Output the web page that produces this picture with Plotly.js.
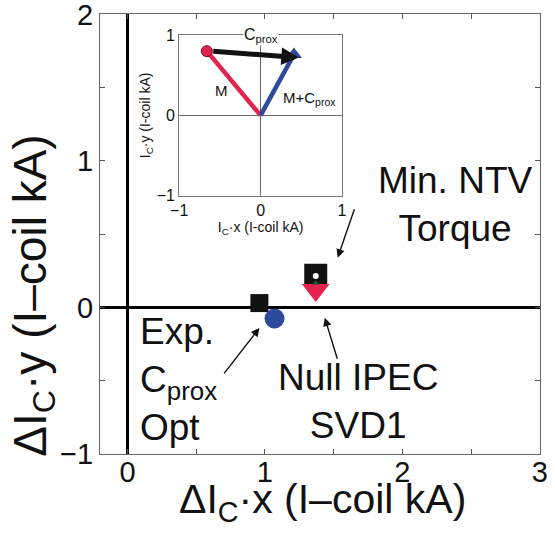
<!DOCTYPE html>
<html>
<head>
<meta charset="utf-8">
<script src="https://cdn.plot.ly/plotly-3.0.1.min.js"></script>
<style>
  html, body { margin: 0; padding: 0; background: #fff; }
  #chart { width: 555px; height: 542px; }
</style>
</head>
<body>
<div id="chart"></div>
<script>
// Coil-current phasor components (I-coil kA) for the optimised configurations
const expCproxOpt = { x: [0.96], y: [0.03] };
const cproxOptB   = { x: [1.07], y: [-0.075] };
const minNtvTorque = { x: [1.37], y: [0.22] };
const nullIpecSvd1 = { x: [1.37], y: [0.12] };
const innerMarkW  = { x: [1.37], y: [0.215] };
const innerMarkG  = { x: [1.37], y: [0.165] };

// Inset vectors: M, C_prox and their sum M+C_prox
const vecM    = { x: [0, -0.66], y: [0, 0.80] };
const vecSum  = { x: [0, 0.41], y: [0, 0.76] };
const cproxTail = [-0.60, 0.80];
const cproxHead = [0.47, 0.72];

const mainYTicks = [-1, -0.5, 0, 0.5, 1, 1.5, 2];
const mainYLabels = ['\u22121', '', '0', '', '1', '', '2'];
const mainXTicks = [0, 0.5, 1, 1.5, 2, 2.5, 3];
const mainXLabels = ['0', '', '1', '', '2', '', '3'];
const insetTicks = [-1, 0, 1];
const insetLabels = ['\u22121', '0', '1'];

const FONT = 'Liberation Sans, Arial, Helvetica, sans-serif';
const RED = '#e3224d';
const BLUE = '#2d4a9c';
const BIG = 37;

const traces = [
  { x: expCproxOpt.x, y: expCproxOpt.y, type: 'scatter', mode: 'markers',
    marker: { symbol: 'square', size: 18, color: '#111' }, xaxis: 'x', yaxis: 'y' },
  { x: cproxOptB.x, y: cproxOptB.y, type: 'scatter', mode: 'markers',
    marker: { symbol: 'circle', size: 20, color: BLUE }, xaxis: 'x', yaxis: 'y' },
  { x: minNtvTorque.x, y: minNtvTorque.y, type: 'scatter', mode: 'markers',
    marker: { symbol: 'square', size: 23, color: '#111' }, xaxis: 'x', yaxis: 'y' },
  { x: nullIpecSvd1.x, y: nullIpecSvd1.y, type: 'scatter', mode: 'markers',
    marker: { symbol: 'triangle-down', size: 24, color: RED }, xaxis: 'x', yaxis: 'y' },
  { x: innerMarkW.x, y: innerMarkW.y, type: 'scatter', mode: 'markers',
    marker: { symbol: 'circle', size: 6, color: '#fff' }, xaxis: 'x', yaxis: 'y' },
  { x: innerMarkG.x, y: innerMarkG.y, type: 'scatter', mode: 'markers',
    marker: { symbol: 'triangle-up', size: 6, color: '#1d5a3a' }, xaxis: 'x', yaxis: 'y' },

  // inset
  { x: vecM.x, y: vecM.y, type: 'scatter', mode: 'lines',
    line: { color: RED, width: 4.5 }, xaxis: 'x2', yaxis: 'y2' },
  { x: vecSum.x, y: vecSum.y, type: 'scatter', mode: 'lines',
    line: { color: BLUE, width: 4.5 }, xaxis: 'x2', yaxis: 'y2' },
  { x: [vecM.x[1]], y: [vecM.y[1]], type: 'scatter', mode: 'markers',
    marker: { symbol: 'circle', size: 11, color: RED, line: { color: '#7a0a20', width: 1 } },
    xaxis: 'x2', yaxis: 'y2' },
  { x: [vecSum.x[1]], y: [vecSum.y[1]], type: 'scatter', mode: 'markers',
    marker: { symbol: 'triangle-up', size: 14, color: BLUE }, xaxis: 'x2', yaxis: 'y2' }
];

const arrowStyle = { showarrow: true, arrowhead: 2, arrowsize: 1.2, arrowwidth: 1.4,
  arrowcolor: '#111', text: '', axref: 'x', ayref: 'y', xref: 'x', yref: 'y' };

const annotations = [
  // main axis titles
  { xref: 'paper', yref: 'paper', x: -0.152, y: 0.36, xanchor: 'center', yanchor: 'middle',
    textangle: -90, showarrow: false,
    text: '\u0394I<sub>C</sub>\u00b7y (I\u2013coil kA)', font: { family: FONT, size: 46, color: '#111' } },
  { xref: 'paper', yref: 'paper', x: 0.505, y: -0.108, xanchor: 'center', yanchor: 'middle',
    showarrow: false,
    text: '\u0394I<sub>C</sub>\u00b7x (I\u2013coil kA)', font: { family: FONT, size: 41, color: '#111' } },

  // callout labels
  { xref: 'x', yref: 'y', x: 2.39, y: 0.70, xanchor: 'center', yanchor: 'middle', showarrow: false,
    text: 'Min. NTV<br>Torque', font: { family: FONT, size: BIG, color: '#111' } },
  { xref: 'x', yref: 'y', x: 0.08, y: -0.49, xanchor: 'left', yanchor: 'middle', showarrow: false, align: 'left',
    text: 'Exp.<br>C<sub>prox</sub><br>Opt', font: { family: FONT, size: BIG, color: '#111' } },
  { xref: 'x', yref: 'y', x: 1.68, y: -0.64, xanchor: 'center', yanchor: 'middle', showarrow: false,
    text: 'Null IPEC<br>SVD1', font: { family: FONT, size: BIG, color: '#111' } },

  // callout arrows
  Object.assign({}, arrowStyle, { x: 1.53, y: 0.34, ax: 1.655, ay: 0.68 }),
  Object.assign({}, arrowStyle, { x: 0.96, y: -0.14, ax: 0.695, ay: -0.46 }),
  Object.assign({}, arrowStyle, { x: 1.436, y: -0.07, ax: 1.53, ay: -0.36 }),

  // inset C_prox arrow
  { xref: 'x2', yref: 'y2', axref: 'x2', ayref: 'y2', x: cproxHead[0], y: cproxHead[1],
    ax: cproxTail[0], ay: cproxTail[1], text: '', showarrow: true,
    arrowhead: 2, arrowsize: 0.7, arrowwidth: 5, arrowcolor: '#111' },

  // inset labels
  { xref: 'x2', yref: 'y2', x: -0.48, y: 0.31, showarrow: false, text: 'M',
    font: { family: FONT, size: 15, color: '#111' } },
  { xref: 'x2', yref: 'y2', x: 0.6, y: 0.21, showarrow: false, text: 'M+C<sub>prox</sub>',
    font: { family: FONT, size: 15, color: '#111' } },
  { xref: 'x2', yref: 'y2', x: 0.0, y: 1.0, yanchor: 'middle', showarrow: false,
    text: 'C<sub>prox</sub>', bgcolor: '#fff', borderpad: 0,
    font: { family: FONT, size: 16, color: '#111' } }
];

const layout = {
  width: 555, height: 542,
  margin: { l: 100, r: 15, t: 14, b: 88 },
  paper_bgcolor: '#fff', plot_bgcolor: '#fff',
  showlegend: false,
  font: { family: FONT, color: '#111' },
  xaxis: {
    range: [-0.2, 3.002], tickvals: mainXTicks, ticktext: mainXLabels,
    ticks: 'inside', ticklen: 5, tickcolor: '#555', tickwidth: 1,
    ticklabeloverflow: 'allow', ticklabelstandoff: -8,
    showgrid: false, showline: true, linecolor: '#666', linewidth: 1, mirror: 'ticks',
    zeroline: true, zerolinecolor: '#000', zerolinewidth: 3,
    tickfont: { family: FONT, size: 29, color: '#111' }
  },
  yaxis: {
    range: [-1, 2.003], tickvals: mainYTicks, ticktext: mainYLabels,
    ticks: 'inside', ticklen: 5, tickcolor: '#555', tickwidth: 1,
    ticklabeloverflow: 'allow',
    showgrid: false, showline: true, linecolor: '#666', linewidth: 1, mirror: 'ticks',
    zeroline: true, zerolinecolor: '#000', zerolinewidth: 3,
    tickfont: { family: FONT, size: 29, color: '#111' }
  },
  xaxis2: {
    domain: [0.18, 0.55], anchor: 'y2', range: [-1, 1],
    tickvals: insetTicks, ticktext: insetLabels,
    ticks: 'inside', ticklen: 3, tickcolor: '#777',
    showgrid: false, showline: true, linecolor: '#777', linewidth: 1, mirror: 'ticks',
    zeroline: true, zerolinecolor: '#666', zerolinewidth: 1,
    tickfont: { family: FONT, size: 16, color: '#111' },
    title: { text: 'I<sub>C</sub>\u00b7x (I-coil kA)', standoff: 0,
             font: { family: FONT, size: 14, color: '#111' } }
  },
  yaxis2: {
    domain: [0.587, 0.952], anchor: 'x2', range: [-1, 1],
    tickvals: insetTicks, ticktext: insetLabels,
    ticks: 'inside', ticklen: 3, tickcolor: '#777',
    showgrid: false, showline: true, linecolor: '#777', linewidth: 1, mirror: 'ticks',
    zeroline: true, zerolinecolor: '#666', zerolinewidth: 1,
    tickfont: { family: FONT, size: 16, color: '#111' },
    title: { text: 'I<sub>C</sub>\u00b7y (I-coil kA)', standoff: 2,
             font: { family: FONT, size: 14, color: '#111' } }
  },
  annotations: annotations
};

Plotly.newPlot('chart', traces, layout, { displayModeBar: false, staticPlot: true });
</script>
</body>
</html>
